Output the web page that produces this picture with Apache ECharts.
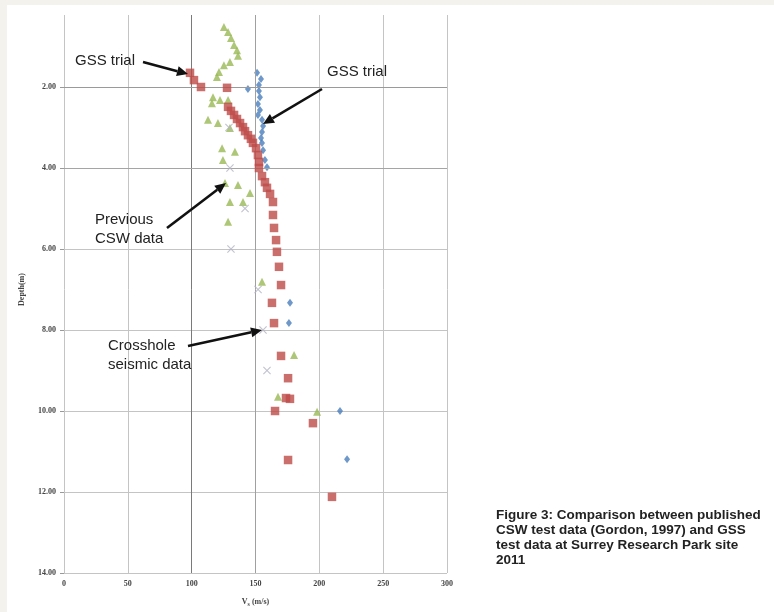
<!DOCTYPE html>
<html><head><meta charset="utf-8">
<script src="https://cdn.jsdelivr.net/npm/echarts@6/dist/echarts.min.js"></script>
<style>html,body{margin:0;padding:0;background:#f3f2ed;}#c{width:774px;height:612px;}</style>
</head><body><div id="c"></div>
<script>
// Tick labels
const xTicks = [0, 50, 100, 150, 200, 250, 300];
const depthTicks = [2, 4, 6, 8, 10, 12, 14];

// GSS trial (red squares): [Vs, depth]
const gssTrialA = [
  [98.7,1.65],[101.8,1.83],[107.3,2.00],[127.7,2.02],[128.5,2.49],[130.8,2.59],[133.2,2.69],
  [135.5,2.79],[137.9,2.89],[140.2,2.99],[141.8,3.09],[144.1,3.19],[146.4,3.28],[148.0,3.38],
  [150.4,3.51],[151.9,3.68],[152.7,3.85],[152.7,4.00],[155.1,4.20],[157.4,4.35],[159.0,4.49],
  [161.4,4.64],[163.7,4.84],[163.7,5.16],[164.5,5.48],[166.1,5.78],[166.8,6.07],[168.4,6.44],
  [170.0,6.89],[162.9,7.33],[164.5,7.83],[170.0,8.64],[175.5,9.19],[173.9,9.68],[177.0,9.70],
  [165.3,10.00],[195.0,10.30],[175.5,11.21],[209.9,12.12]
];
// GSS trial (blue diamonds)
const gssTrialB = [
  [151.2,1.65],[154.3,1.80],[152.7,1.95],[144.1,2.05],[152.7,2.10],[153.5,2.25],[151.9,2.42],
  [153.5,2.57],[151.9,2.69],[155.1,2.81],[155.9,2.96],[155.1,3.11],[154.3,3.26],[155.1,3.38],
  [155.9,3.56],[157.4,3.80],[159.0,3.98],[177.0,7.33],[176.2,7.83],[216.2,10.00],[221.7,11.19]
];
// Previous CSW data (green triangles)
const previousCSW = [
  [125.3,0.52],[128.5,0.64],[130.8,0.79],[133.2,0.96],[135.5,1.09],[136.3,1.23],[130.0,1.38],
  [125.3,1.46],[121.4,1.63],[119.8,1.75],[116.7,2.25],[122.2,2.32],[128.5,2.32],[115.9,2.40],
  [112.8,2.81],[120.6,2.89],[130.0,3.01],[123.8,3.51],[133.9,3.60],[124.5,3.80],[126.1,4.37],
  [136.3,4.42],[145.7,4.62],[130.0,4.84],[140.2,4.84],[128.5,5.33],[155.1,6.81],[180.2,8.62],
  [167.6,9.65],[198.2,10.02]
];
// Crosshole seismic data (grey crosses)
const crosshole = [
  [129.2,3.0],[130.0,4.0],[141.8,5.0],[130.8,6.0],[152.0,7.0],[155.9,8.0],[159.0,9.0]
];

const chart = echarts.init(document.getElementById('c'), null, {renderer:'canvas'});
const crossPath = 'path://M0,1L1,0L5,4L9,0L10,1L6,5L10,9L9,10L5,6L1,10L0,9L4,5Z';

function arrow(x1,y1,x2,y2){
  const ang = Math.atan2(y2-y1, x2-x1);
  const L = 11, W = 5;
  const bx = x2 - L*Math.cos(ang), by = y2 - L*Math.sin(ang);
  const px = -Math.sin(ang)*W, py = Math.cos(ang)*W;
  return [
    {type:'line', z:50, shape:{x1:x1,y1:y1,x2:bx,y2:by}, style:{stroke:'#111', lineWidth:2.6}},
    {type:'polygon', z:50, shape:{points:[[x2,y2],[bx+px,by+py],[bx-px,by-py]]}, style:{fill:'#111'}}
  ];
}
const txt = (x,y,t,lh) => ({type:'text', z:50, x:x, y:y,
  style:{text:t, font:'15px "Liberation Sans", Arial, sans-serif', fill:'#222', lineHeight:lh||19}});

const graphics = [
  {type:'rect', z:-10, shape:{x:7,y:5,width:767,height:607}, style:{fill:'#ffffff'}, silent:true},
  {type:'rect', z:40, shape:{x:50,y:5,width:410,height:10}, style:{fill:'#ffffff'}, silent:true},
  txt(75,51,'GSS trial'),
  ...arrow(143,62,188,74),
  txt(327,62,'GSS trial'),
  ...arrow(322,89,263,124),
  txt(95,210,'Previous\nCSW data',19),
  ...arrow(167,228,226,183),
  txt(108,336,'Crosshole\nseismic data',19),
  ...arrow(188,346,262,330),
  {type:'text', z:50, x:496, y:508, style:{
    text:'Figure 3: Comparison between published\nCSW test data (Gordon, 1997) and GSS\ntest data at Surrey Research Park site\n2011',
    font:'bold 13.5px "Liberation Sans", Arial, sans-serif', fill:'#222', lineHeight:15}}
];

const axisFont = {fontFamily:'"Liberation Serif", serif', fontSize:8, fontWeight:'bold', color:'#444'};

chart.setOption({
  backgroundColor:'transparent',
  animation:false,
  grid:{left:64, right:327, top:6, bottom:39},
  xAxis:{
    type:'value', min:xTicks[0], max:xTicks[xTicks.length-1], interval:50,
    name:'V{s|s} (m/s)', nameLocation:'middle', nameGap:24,
    nameTextStyle:{fontFamily:'"Liberation Serif", serif', fontSize:8, fontWeight:'bold', color:'#444',
      rich:{s:{fontSize:6, verticalAlign:'bottom', padding:[4,0,0,0], fontWeight:'bold', color:'#444'}}},
    axisLine:{show:true, lineStyle:{color:'#888', width:1.2}},
    axisTick:{show:false},
    axisLabel:Object.assign({margin:7, formatter:v=>xTicks.includes(v)?String(v):''}, axisFont),
    splitLine:{show:true, lineStyle:{color:'#c4c4c4', width:1}}
  },
  yAxis:{
    type:'value', inverse:true, min:0, max:depthTicks[depthTicks.length-1], interval:2,
    name:'Depth(m)', nameLocation:'middle', nameGap:38, nameRotate:90,
    nameTextStyle:{fontFamily:'"Liberation Serif", serif', fontSize:8, fontWeight:'bold', color:'#444'},
    axisLine:{show:false},
    axisTick:{show:true, length:4, lineStyle:{color:'#999'}},
    axisLabel:Object.assign({margin:8, formatter:v=>depthTicks.includes(v)?v.toFixed(2):''}, axisFont),
    splitLine:{show:true, lineStyle:{color:'#c4c4c4', width:1}}
  },
  graphic:graphics,
  series:[
    {type:'scatter', name:'GSS trial B', data:gssTrialB, symbol:'diamond', symbolSize:[6,8],
      itemStyle:{color:'#4a7ebb'}, z:3,
      markLine:{silent:true, symbol:'none', label:{show:false}, animation:false,
        lineStyle:{type:'solid', width:1},
        data:[{xAxis:100, lineStyle:{color:'#7a7a7a'}},{xAxis:150, lineStyle:{color:'#a0a0a0'}},
              {yAxis:2, lineStyle:{color:'#9a9a9a'}},{yAxis:4, lineStyle:{color:'#a5a5a5'}}]}},
    {type:'scatter', name:'Previous CSW data', data:previousCSW, symbol:'triangle', symbolSize:8,
      itemStyle:{color:'#98b954'}, z:4},
    {type:'scatter', name:'GSS trial A', data:gssTrialA, symbol:'rect', symbolSize:8.5,
      itemStyle:{color:'#be4b48'}, z:5},
    {type:'scatter', name:'Crosshole seismic data', data:crosshole, symbol:crossPath, symbolSize:8,
      itemStyle:{color:'#b4b4c4'}, z:6}
  ]
});
</script></body></html>
